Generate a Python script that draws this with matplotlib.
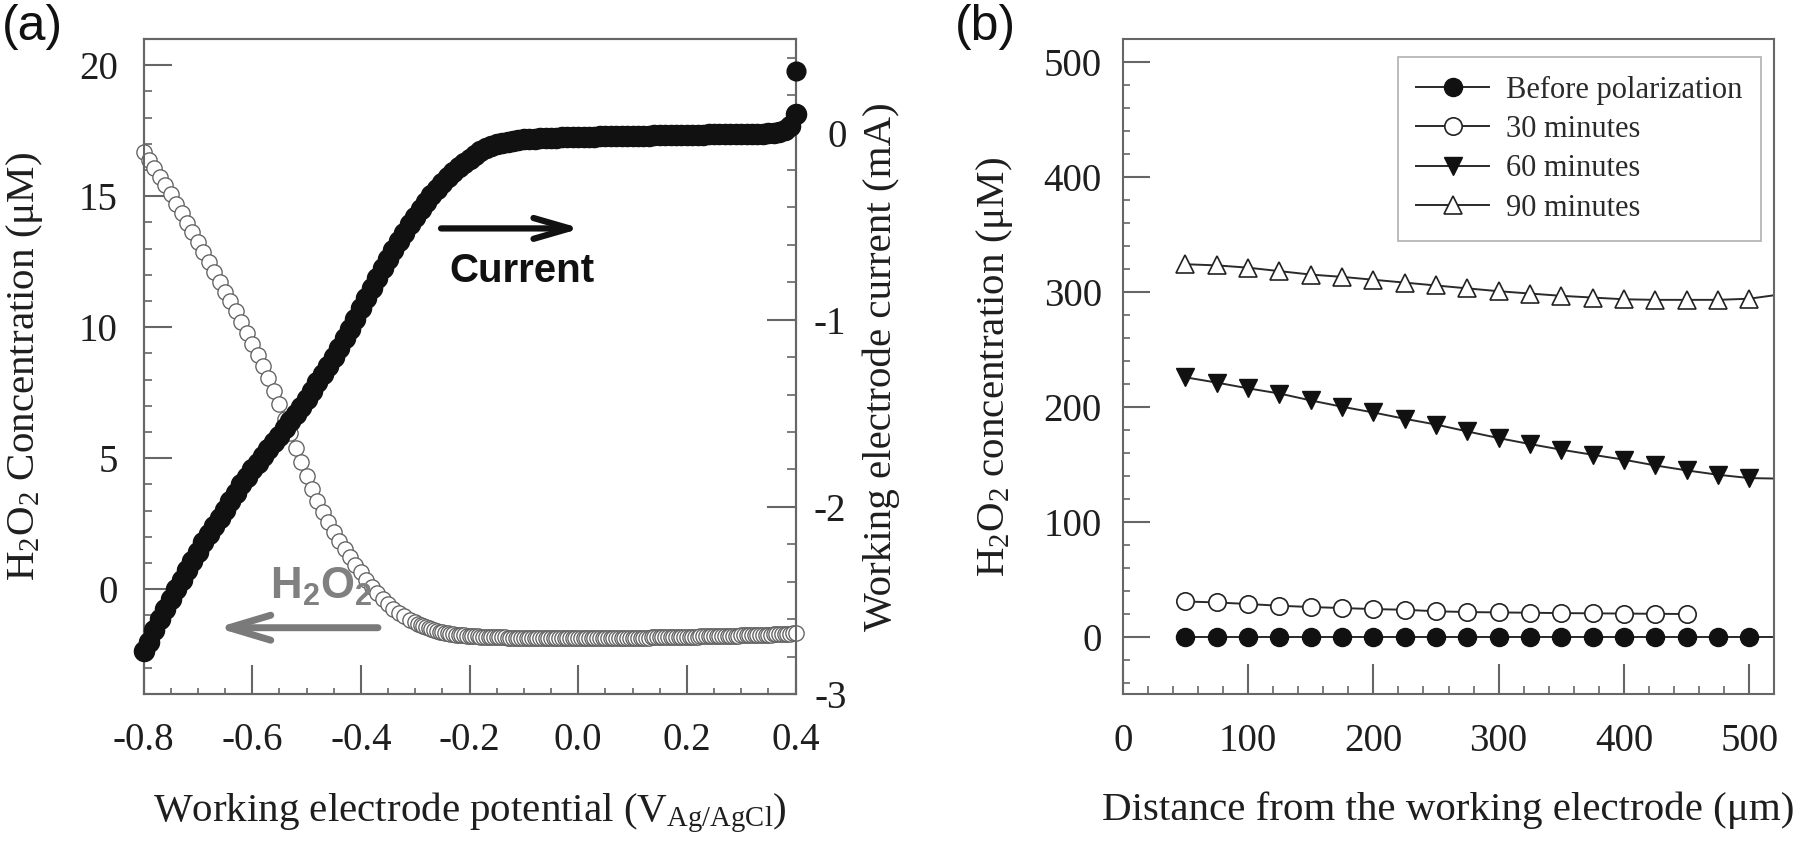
import numpy as np
import matplotlib
matplotlib.use("Agg")
import matplotlib.pyplot as plt
from matplotlib.ticker import MultipleLocator

plt.rcParams['font.family'] = 'Liberation Serif'
plt.rcParams['mathtext.fontset'] = 'custom'
plt.rcParams['mathtext.rm'] = 'Liberation Serif'
plt.rcParams['mathtext.it'] = 'Liberation Serif:italic'
plt.rcParams['mathtext.bf'] = 'Liberation Sans:bold'
plt.rcParams['mathtext.sf'] = 'Liberation Sans'
plt.rcParams['axes.unicode_minus'] = False

SERIF = 'Liberation Serif'
SANS = 'Liberation Sans'

# ---------------- Panel (a) data ----------------
# potential sweep (V vs Ag/AgCl)
current_potential = np.round(np.arange(-80, 41) * 0.01, 3)
current_mA = [
    -2.77, -2.72, -2.66, -2.60, -2.545, -2.49, -2.44, -2.39, -2.34, -2.29,
    -2.24, -2.19, -2.145, -2.10, -2.06, -2.015, -1.97, -1.925, -1.88, -1.84,
    -1.80, -1.765, -1.73, -1.69, -1.655, -1.62, -1.58, -1.543, -1.505, -1.465,
    -1.425, -1.38, -1.335, -1.29, -1.245, -1.20, -1.15, -1.10, -1.05, -0.995,
    -0.94, -0.885, -0.83, -0.775, -0.725, -0.675, -0.625, -0.58, -0.535, -0.49,
    -0.45, -0.41, -0.37, -0.335, -0.30, -0.27, -0.24, -0.21, -0.185, -0.16,
    -0.14, -0.12, -0.10, -0.085, -0.072, -0.062, -0.054, -0.048, -0.043, -0.039,
    -0.036, -0.034, -0.032, -0.030, -0.029, -0.028, -0.027, -0.026, -0.025, -0.024,
    -0.023, -0.022, -0.021, -0.021, -0.020, -0.020, -0.019, -0.019, -0.018, -0.018,
    -0.017, -0.017, -0.016, -0.016, -0.015, -0.015, -0.014, -0.014, -0.013, -0.013,
    -0.012, -0.012, -0.011, -0.011, -0.010, -0.010, -0.009, -0.009, -0.008, -0.008,
    -0.007, -0.007, -0.006, -0.006, -0.005, -0.004, -0.002, 0.002, 0.012, 0.035,
    0.10,
]
current_last_potential = 0.40
current_last_mA = 0.33

h2o2_potential = np.round(np.concatenate([np.arange(-80, -30) * 0.01,
                                          np.arange(-60, 81) * 0.005]), 3)
h2o2_uM = [
    16.70, 16.38, 16.06, 15.74, 15.41, 15.07, 14.72, 14.36, 13.99, 13.62,
    13.25, 12.87, 12.49, 12.11, 11.73, 11.36, 11.00, 10.60, 10.19, 9.77,
    9.36, 8.94, 8.53, 8.08, 7.58, 7.05, 6.50, 5.95, 5.40, 4.85,
    4.33, 3.83, 3.36, 2.94, 2.56, 2.20, 1.85, 1.52, 1.22, 0.93,
    0.64, 0.36, 0.10, -0.14, -0.38, -0.58, -0.75, -0.90, -1.04, -1.16,
    # from -0.300 V in 0.005 V steps
    -1.27, -1.32, -1.37, -1.41, -1.45, -1.49, -1.53, -1.56, -1.59, -1.62,
    -1.64, -1.66, -1.68, -1.70, -1.71, -1.73, -1.74, -1.75, -1.76, -1.77,
    -1.78,
    -1.79, -1.80, -1.80, -1.81, -1.81, -1.82, -1.82, -1.83, -1.83, -1.83,
    -1.84, -1.84, -1.84, -1.85, -1.85, -1.85, -1.85, -1.86, -1.86, -1.86,
    -1.86, -1.86, -1.86, -1.86, -1.87, -1.87, -1.87, -1.87, -1.87, -1.87,
    -1.87, -1.87, -1.87, -1.87, -1.87, -1.87, -1.87, -1.87, -1.87, -1.87,
    -1.87, -1.87, -1.87, -1.87, -1.87, -1.87, -1.87, -1.87, -1.86, -1.86,
    -1.86, -1.86, -1.86, -1.86, -1.86, -1.86, -1.86, -1.86, -1.86, -1.86,
    -1.86, -1.85, -1.85, -1.85, -1.85, -1.85, -1.84, -1.84, -1.84, -1.84,
    -1.84, -1.83, -1.83, -1.83, -1.83, -1.83, -1.82, -1.82, -1.82, -1.82,
    -1.82, -1.81, -1.81, -1.81, -1.80, -1.80, -1.80, -1.80, -1.79, -1.79,
    -1.79, -1.79, -1.78, -1.78, -1.78, -1.78, -1.77, -1.77, -1.77, -1.76,
    -1.76, -1.76, -1.75, -1.75, -1.75, -1.74, -1.74, -1.74, -1.73, -1.73,
    -1.73, -1.72, -1.72, -1.72, -1.71, -1.71, -1.70, -1.70, -1.69, -1.68,
]
assert len(current_mA) == len(current_potential)
assert len(h2o2_uM) == len(h2o2_potential)

# ---------------- Panel (b) data ----------------
distance_um = [50, 75, 100, 125, 150, 175, 200, 225, 250, 275,
               300, 325, 350, 375, 400, 425, 450, 475, 500]
before_pol = [0, 0, 0, 0, 0, 0, 0, 0, 0, 0, 0, 0, 0, 0, 0, 0, 0, 0, 0]
min30 = [30.5, 29.7, 28.3, 26.8, 25.7, 24.8, 23.9, 23.3, 22.0, 21.3,
         21.0, 20.7, 20.4, 20.2, 20.0, 19.8, 19.6]
min60 = [225.6, 221.0, 216.0, 211.5, 205.5, 200.0, 195.0, 189.5, 184.5, 178.5,
         172.7, 167.5, 162.6, 158.2, 153.9, 148.9, 144.6, 140.8, 137.9]
min90 = [324.0, 323.0, 321.0, 318.0, 315.0, 313.0, 310.5, 308.0, 305.5, 303.0,
         300.5, 298.5, 296.5, 295.0, 293.5, 293.0, 293.0, 293.0, 294.0]
# value of each trend line where it meets the right frame
trend_end = {'before': 0.0, '60': 137.5, '90': 297.0}
series_labels = ['Before polarization', '30 minutes', '60 minutes', '90 minutes']

X_MAX_B = 520

# ---------------- Figure ----------------
W, H = 1800, 844
fig = plt.figure(figsize=(W / 100, H / 100), dpi=100)
axA = fig.add_axes([143.5 / W, (H - 694) / H, 652 / W, 655 / H])
axB = fig.add_axes([1122.7 / W, (H - 694) / H, 651.6 / W, 655 / H])

SPINE_C = '#666666'
TXT_C = '#1e1e1e'

def style_spines(ax):
    for s in ax.spines.values():
        s.set_color(SPINE_C)
        s.set_linewidth(1.5)

# ---- Panel (a)
axA.set_xlim(-0.8, 0.4)
axA.set_ylim(-4, 21)
axA.xaxis.set_major_locator(MultipleLocator(0.2))
axA.xaxis.set_minor_locator(MultipleLocator(0.05))
axA.yaxis.set_major_locator(MultipleLocator(5))
axA.yaxis.set_minor_locator(MultipleLocator(1))
axA.tick_params(which='both', direction='in', color=SPINE_C, labelcolor=TXT_C,
                top=False, right=False)
axA.tick_params(axis='x', which='major', length=21, width=1.5, pad=20, labelsize=28)
axA.tick_params(axis='x', which='minor', length=4.5, width=1.2)
axA.tick_params(axis='y', which='major', length=20, width=1.5, pad=18.5, labelsize=28)
axA.tick_params(axis='y', which='minor', length=6, width=1.2)
style_spines(axA)

axA.plot(h2o2_potential, h2o2_uM, linestyle='none', marker='o', ms=11,
         mfc='white', mec='#606060', mew=0.95, clip_on=False, zorder=3)

axA2 = axA.twinx()
axA2.set_ylim(-3, 0.5)
axA2.yaxis.set_major_locator(MultipleLocator(1))
axA2.yaxis.set_minor_locator(MultipleLocator(0.2))
axA2.tick_params(which='both', direction='in', color=SPINE_C, labelcolor=TXT_C)
axA2.tick_params(axis='y', which='major', length=21, width=1.5, pad=36.7, labelsize=28)
axA2.tick_params(axis='y', which='minor', length=6.5, width=1.2)
for lab in axA2.get_yticklabels():
    lab.set_horizontalalignment('right')
style_spines(axA2)

axA2.plot(current_potential, current_mA, linestyle='none', marker='o', ms=14.5,
          mfc='#111111', mec='#111111', clip_on=False, zorder=3)
axA2.plot([current_last_potential], [current_last_mA], linestyle='none', marker='o',
          ms=13.5, mfc='#111111', mec='#111111', clip_on=False, zorder=3)

axA.set_xlabel(r'Working electrode potential (V$_{\mathrm{Ag/AgCl}}$)',
               fontsize=29.5, color=TXT_C)
axA.xaxis.set_label_coords(0.5, -0.148)
axA.set_ylabel(r'H$_2$O$_2$ Concentration (μM)', fontsize=29.5, color=TXT_C)
axA.yaxis.set_label_coords(-0.151, 0.5)
axA2.set_ylabel('Working electrode current (mA)', fontsize=29.5, color=TXT_C)
axA2.yaxis.set_label_coords(1.102, 0.5)

# annotations
axA.annotate('', xy=(0.005, 13.77), xytext=(-0.2524, 13.77),
             arrowprops=dict(arrowstyle='->,head_length=2.6,head_width=0.75',
                             lw=4.5, color='#111111', mutation_scale=10,
                             shrinkA=0, shrinkB=0), zorder=4)
axA.text(-0.1026, 11.71, 'Current', fontfamily=SANS, fontweight='bold', fontsize=29,
         ha='center', va='baseline', color='#111111', zorder=4)
axA.annotate('', xy=(-0.6647, -1.47), xytext=(-0.3685, -1.47),
             arrowprops=dict(arrowstyle='->,head_length=3.0,head_width=0.9',
                             lw=5, color='#7a7a7a', mutation_scale=10,
                             shrinkA=0, shrinkB=0), zorder=4)
axA.text(-0.567, -0.35, r'$\mathbf{H_2O_2}$', fontsize=31.5, ha='left', va='baseline',
         color='#808080', zorder=4)

# ---- Panel (b)
axB.set_xlim(0, X_MAX_B)
axB.set_ylim(-50, 520)
axB.xaxis.set_major_locator(MultipleLocator(100))
axB.xaxis.set_minor_locator(MultipleLocator(20))
axB.yaxis.set_major_locator(MultipleLocator(100))
axB.yaxis.set_minor_locator(MultipleLocator(20))
axB.tick_params(which='both', direction='in', color=SPINE_C, labelcolor=TXT_C,
                top=False, right=False)
axB.tick_params(axis='x', which='major', length=21.5, width=1.5, pad=21, labelsize=28)
axB.tick_params(axis='x', which='minor', length=6, width=1.2)
axB.tick_params(axis='y', which='major', length=19.5, width=1.5, pad=15, labelsize=28)
axB.tick_params(axis='y', which='minor', length=5, width=1.2)
style_spines(axB)

LINE_C = '#2a2a2a'
LW = 1.4
dist30 = distance_um[:len(min30)]

h_before, = axB.plot(distance_um, before_pol, '-', color=LINE_C, lw=LW, marker='o', ms=13,
                     mfc='#111111', mec='#111111', clip_on=False, zorder=3)
axB.plot([distance_um[-1], X_MAX_B], [before_pol[-1], trend_end['before']], '-',
         color=LINE_C, lw=LW, zorder=2)
h30, = axB.plot(dist30, min30, '-', color=LINE_C, lw=LW, marker='o', ms=12.5,
                mfc='white', mec='#222222', mew=1.2, zorder=3)
h60, = axB.plot(distance_um, min60, '-', color=LINE_C, lw=LW, marker='v', ms=13.5,
                mfc='#111111', mec='#111111', zorder=3)
axB.plot([distance_um[-1], X_MAX_B], [min60[-1], trend_end['60']], '-',
         color=LINE_C, lw=LW, zorder=2)
h90, = axB.plot(distance_um, min90, '-', color=LINE_C, lw=LW, marker='^', ms=13.5,
                mfc='white', mec='#222222', mew=1.2, zorder=3)
axB.plot([distance_um[-1], X_MAX_B], [min90[-1], trend_end['90']], '-',
         color=LINE_C, lw=LW, zorder=2)

leg = axB.legend([h_before, h30, h60, h90], series_labels, loc='upper right',
                 bbox_to_anchor=(0.9796, 0.972), borderaxespad=0,
                 prop={'family': SERIF, 'size': 22}, frameon=True, fancybox=False,
                 edgecolor='#b0b0b0', framealpha=1, handlelength=2.4,
                 handletextpad=0.55, labelspacing=0.34, borderpad=0.6)
leg.get_frame().set_linewidth(1.2)
for t in leg.get_texts():
    t.set_color('#2a2a2a')

axB.set_xlabel('Distance from the working electrode (μm)', fontsize=29.5, color=TXT_C)
axB.xaxis.set_label_coords(0.5, -0.148)
axB.set_ylabel(r'H$_2$O$_2$ concentration (μM)', fontsize=29.5, color=TXT_C)
axB.yaxis.set_label_coords(-0.165, 0.5)

# panel letters
fig.text(1.5 / W, 1 - 4 / H, '(a)', fontfamily=SANS, fontsize=36, ha='left', va='top',
         color='#111111')
fig.text(955 / W, 1 - 4 / H, '(b)', fontfamily=SANS, fontsize=36, ha='left', va='top',
         color='#111111')

fig.savefig('out.png', dpi=100)
